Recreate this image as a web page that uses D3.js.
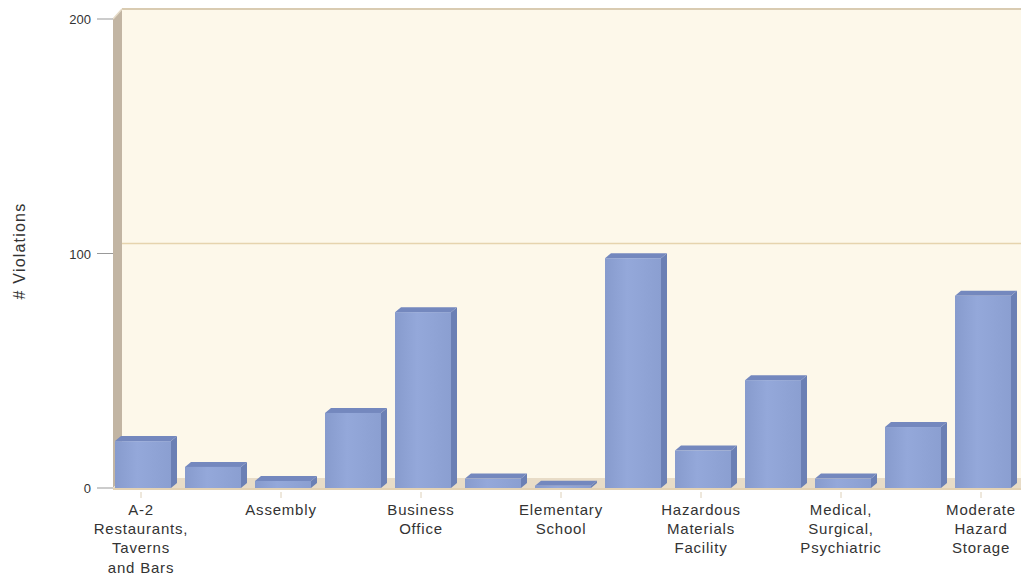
<!DOCTYPE html>
<html><head><meta charset="utf-8">
<script src="https://cdn.jsdelivr.net/npm/d3@7"></script>
<style>body{margin:0;background:#fff}svg{display:block}text{font-family:Arial,"Liberation Sans",sans-serif;fill:#333}</style>
</head><body>
<svg id="c" width="1021" height="575"></svg>
<script>
const categories = ["A-2 Restaurants, Taverns and Bars","Apartments","Assembly","Assisted Living","Business Office","Day Care","Elementary School","Factory","Hazardous Materials Facility","High School","Medical, Surgical, Psychiatric","Mercantile","Moderate Hazard Storage"];
const labelLines = [["A-2","Restaurants,","Taverns","and Bars"],null,["Assembly"],null,["Business","Office"],null,["Elementary","School"],null,["Hazardous","Materials","Facility"],null,["Medical,","Surgical,","Psychiatric"],null,["Moderate","Hazard","Storage"]];
const values = [20, 9, 3, 32, 75, 4, 1, 98, 16, 46, 4, 26, 82];
const yTicks = [0, 100, 200];
const yTitle = "# Violations";

const svg = d3.select("#c");
const W = 1021;
const y = d3.scaleLinear().domain([0,200]).range([488,19]);
const x = d3.scaleBand().domain(categories).range([108,1018]).paddingInner(0.2).paddingOuter(0.1);
const X0 = 113, DX = 9, DY = 10; // wall depth
const bdx = 6, bdy = 5; // bar depth

// back wall
svg.append("rect").attr("x",X0+DX).attr("y",y(200)-DY).attr("width",W).attr("height",y(0)-y(200)).attr("fill","#fdf8ea");
// left side wall
svg.append("path").attr("d",`M${X0},${y(200)}L${X0+DX},${y(200)-DY}L${X0+DX},${y(0)-DY}L${X0},${y(0)}Z`).attr("fill","#c2b5a3");
// floor
svg.append("path").attr("d",`M${X0},${y(0)}L${X0+DX},${y(0)-DY}L${W},${y(0)-DY}L${W},${y(0)}Z`).attr("fill","#e8dcc7");
// top edge of wall
svg.append("line").attr("x1",X0+DX).attr("x2",W).attr("y1",y(200)-DY).attr("y2",y(200)-DY).attr("stroke","#d9cbb1").attr("stroke-width",2);
svg.append("line").attr("x1",X0).attr("y1",y(200)).attr("x2",X0+DX).attr("y2",y(200)-DY).attr("stroke","#e6dcc9").attr("stroke-width",1.5);
// gridlines
yTicks.filter(t=>t>0 && t<200).forEach(t=>{
  svg.append("line").attr("x1",X0+DX).attr("x2",W).attr("y1",y(t)-DY).attr("y2",y(t)-DY).attr("stroke","#e6d4ae").attr("stroke-width",1.5);
});
// y ticks
yTicks.forEach(t=>{
  svg.append("line").attr("x1",97).attr("x2",X0).attr("y1",y(t)).attr("y2",y(t)).attr("stroke","#999");
  svg.append("text").attr("x",91).attr("y",y(t)+5).attr("text-anchor","end").attr("font-size",13).text(t);
});
svg.append("text").attr("transform","translate(25,251) rotate(-90)").attr("text-anchor","middle").attr("font-size",16).attr("letter-spacing",1.2).text(yTitle);

// gradient for front
const defs = svg.append("defs");
const g = defs.append("linearGradient").attr("id","fg").attr("x1",0).attr("x2",1).attr("y1",0).attr("y2",0);
g.append("stop").attr("offset","0%").attr("stop-color","#879bcd");
g.append("stop").attr("offset","40%").attr("stop-color","#94a8da");
g.append("stop").attr("offset","100%").attr("stop-color","#8b9fd1");

const bars = svg.append("g").selectAll("g").data(categories).join("g");
bars.each(function(c,i){
  const gg = d3.select(this);
  const x1 = x(c), bw = x.bandwidth(), yt = y(values[i]), yb = y(0);
  gg.append("path").attr("d",`M${x1+bw},${yt}L${x1+bw+bdx},${yt-bdy}L${x1+bw+bdx},${yb-bdy}L${x1+bw},${yb}Z`).attr("fill","#6b80b5");
  gg.append("path").attr("d",`M${x1},${yt}L${x1+bdx},${yt-bdy}L${x1+bw+bdx},${yt-bdy}L${x1+bw},${yt}Z`).attr("fill","#7488be");
  gg.append("rect").attr("x",x1).attr("y",yt).attr("width",bw).attr("height",yb-yt).attr("fill","url(#fg)");
});

// bottom axis line
svg.append("line").attr("x1",X0).attr("x2",W).attr("y1",y(0)+1).attr("y2",y(0)+1).attr("stroke","#e3d2b4").attr("stroke-width",2);
// x ticks & labels
categories.forEach((c,i)=>{
  const lines = labelLines[i];
  if(!lines) return;
  const cx = x(c)+x.bandwidth()/2 - 2;
  svg.append("line").attr("x1",cx).attr("x2",cx).attr("y1",492).attr("y2",498).attr("stroke","#ddd0b8");
  const t = svg.append("text").attr("y",515).attr("text-anchor","middle").attr("font-size",15).attr("letter-spacing",0.8);
  lines.forEach((l,k)=>t.append("tspan").attr("x",cx).attr("dy",k?19.2:0).text(l));
});
</script>
</body></html>
